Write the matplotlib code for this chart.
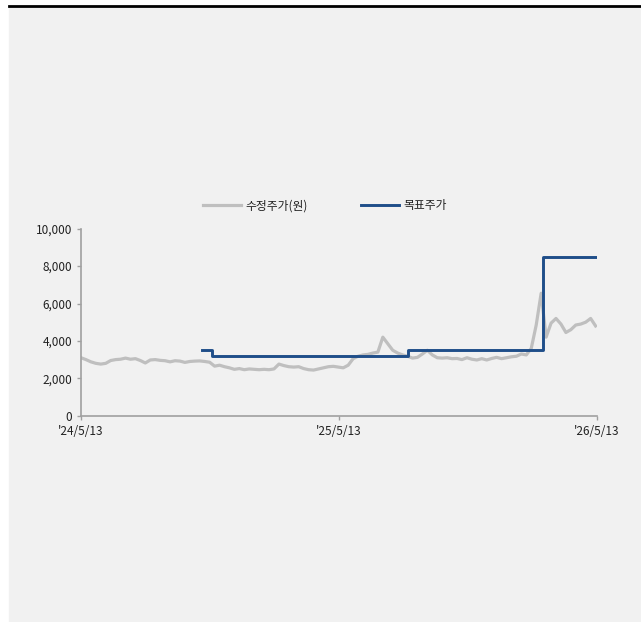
import matplotlib.pyplot as plt
import matplotlib.ticker as mticker
import pandas as pd

plt.rcParams['font.family'] = ['Noto Sans CJK KR', 'DejaVu Sans']

# weekly adjusted close (수정주가), 2024-05-13 .. 2026-05-11
price_start = '2024-05-13'
price = [3100, 3000, 2880, 2800, 2760, 2800, 2950, 3000, 3020, 3080,
         3020, 3050, 2950, 2820, 2980, 3000, 2960, 2940, 2880, 2940,
         2920, 2850, 2900, 2920, 2930, 2900, 2860, 2650, 2700, 2620,
         2560, 2480, 2520, 2460, 2500, 2480, 2460, 2480, 2460, 2500,
         2760, 2680, 2620, 2600, 2620, 2520, 2460, 2440, 2500, 2560,
         2620, 2640, 2600, 2560, 2700, 3050, 3180, 3250, 3280, 3350,
         3400, 4200, 3850, 3500, 3350, 3250, 3180, 3080, 3120, 3300,
         3500, 3250, 3100, 3080, 3100, 3050, 3060, 3000, 3100, 3020,
         2980, 3050, 2980, 3060, 3120, 3050, 3100, 3150, 3180, 3300,
         3250, 3600, 4850, 6550, 4200, 4950, 5200, 4900, 4450, 4600,
         4850, 4900, 5000, 5200, 4800]

# target price (목표주가) change points
target_dates = ['2024-10-31', '2024-11-15', '2025-08-18', '2026-02-25', '2026-05-13']
target_vals = [3500, 3200, 3500, 8500, 8500]

x_ticks = ['2024-05-13', '2025-05-13', '2026-05-13']
x_labels = ["'24/5/13", "'25/5/13", "'26/5/13"]

fig = plt.figure(figsize=(6.41, 6.22), dpi=100)
fig.patch.set_facecolor('white')

# gray panel and top rule
fig.patches.append(plt.Rectangle((9 / 641, 0), 1 - 9 / 641, 1 - 6 / 622,
                                 transform=fig.transFigure, color='#f1f1f1', zorder=-10))
fig.lines.append(plt.Line2D([9 / 641, 1], [1 - 5.5 / 622, 1 - 5.5 / 622],
                            transform=fig.transFigure, color='black', lw=2, zorder=-5))

ax = fig.add_axes([81 / 641, 1 - 415.7 / 622, 516 / 641, 187 / 622])
ax.set_facecolor('none')
ax.set_zorder(5)

dates = pd.date_range(price_start, periods=len(price), freq='7D')
ax.plot(dates, price, color='#bfbfbf', lw=2.3, label='수정주가(원)')
ax.plot(pd.to_datetime(target_dates), target_vals, color='#1f4e89', lw=2.1,
        drawstyle='steps-post', label='목표주가')

ax.set_xlim(pd.Timestamp('2024-05-13'), pd.Timestamp('2026-05-13'))
ax.set_ylim(0, 10000)
ax.set_yticks(range(0, 10001, 2000))
ax.yaxis.set_major_formatter(mticker.FuncFormatter(lambda v, p: f'{int(v):,}'))
ax.set_xticks(pd.to_datetime(x_ticks))
ax.set_xticklabels(x_labels)

for s in ['top', 'right']:
    ax.spines[s].set_visible(False)
for s in ['left', 'bottom']:
    ax.spines[s].set_color('#a0a0a0')
    ax.spines[s].set_linewidth(1.2)
ax.tick_params(colors='#a0a0a0', length=3, width=1, labelsize=8.5, labelcolor='#222222')
ax.tick_params(axis='x', pad=4)

fig.legend(loc='center', bbox_to_anchor=(325 / 641, 1 - 206 / 622), ncol=2,
           frameon=False, fontsize=8.5, handlelength=3.2, handletextpad=0.4,
           columnspacing=4.5, labelcolor='#222222')

fig.savefig('out.png', dpi=100)
